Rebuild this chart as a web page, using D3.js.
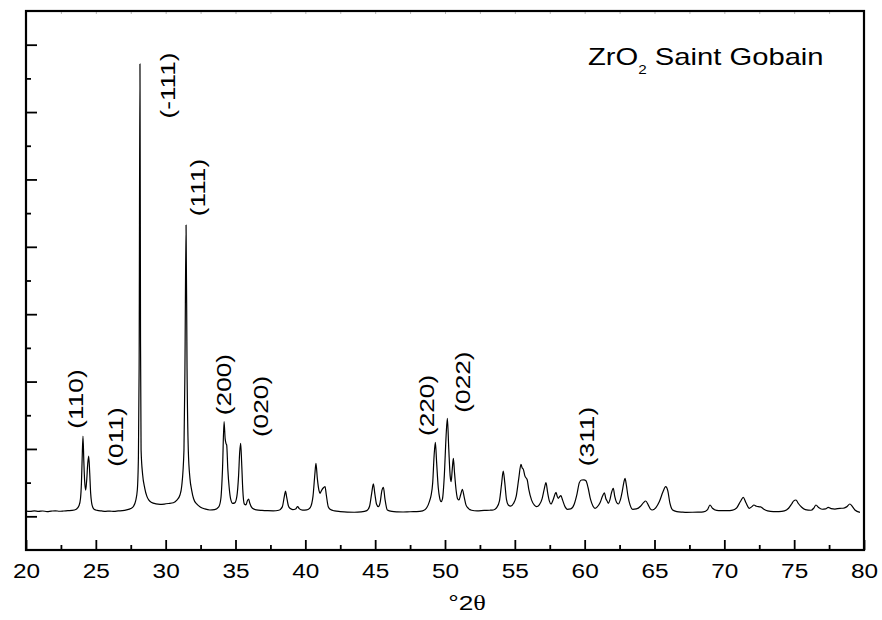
<!DOCTYPE html>
<html>
<head>
<meta charset="utf-8">
<script src="https://cdn.jsdelivr.net/npm/d3@7"></script>
<style>
  body { margin: 0; background: #fff; }
  svg { display: block; font-family: "Liberation Sans", Arial, sans-serif; }
</style>
</head>
<body>
<svg></svg>
<script>
// diffraction pattern (degrees 2theta, counts)
const twoTheta = [
  20.0, 20.3, 20.6, 20.9, 21.2, 21.5, 21.8, 22.1, 22.4, 22.7, 23.0, 23.3, 23.6, 23.8, 23.9, 23.97,
  24.02, 24.08, 24.14, 24.2, 24.27, 24.34, 24.42, 24.49, 24.56, 24.63, 24.7, 24.78, 24.9, 25.1, 25.4,
  25.7, 26.0, 26.3, 26.6, 26.9, 27.2, 27.5, 27.7, 27.85, 27.97, 28.05, 28.1, 28.16, 28.2, 28.24, 28.35,
  28.5, 28.65, 28.8, 29.0, 29.3, 29.6, 29.9, 30.2, 30.55, 30.8, 31.03, 31.15, 31.31, 31.38, 31.46,
  31.53, 31.62, 31.74, 31.86, 32.0, 32.22, 32.5, 32.8, 33.17, 33.5, 33.8, 33.95, 34.07, 34.18, 34.26,
  34.32, 34.37, 34.45, 34.55, 34.65, 34.8, 34.95, 35.1, 35.22, 35.3, 35.37, 35.44, 35.52, 35.63, 35.75,
  35.85, 35.94, 36.03, 36.21, 36.5, 36.9, 37.3, 37.7, 38.1, 38.35, 38.5, 38.58, 38.66, 38.78, 38.9,
  39.1, 39.3, 39.45, 39.58, 39.8, 40.1, 40.35, 40.55, 40.68, 40.76, 40.86, 40.98, 41.05, 41.15, 41.28,
  41.41, 41.5, 41.64, 41.8, 42.1, 42.5, 43.0, 43.5, 44.0, 44.4, 44.6, 44.75, 44.87, 44.98, 45.1, 45.23,
  45.35, 45.48, 45.59, 45.7, 45.87, 46.2, 46.6, 47.0, 47.5, 47.97, 48.4, 48.7, 48.9, 49.0, 49.12, 49.22,
  49.31, 49.4, 49.52, 49.62, 49.72, 49.82, 49.95, 50.08, 50.17, 50.27, 50.37, 50.44, 50.52, 50.6, 50.68,
  50.8, 50.9, 51.0, 51.12, 51.24, 51.36, 51.5, 51.67, 51.9, 52.3, 52.8, 53.2, 53.46, 53.7, 53.9, 54.05,
  54.17, 54.28, 54.4, 54.53, 54.7, 54.9, 55.1, 55.28, 55.44, 55.52, 55.61, 55.72, 55.89, 56.0, 56.2,
  56.4, 56.56, 56.75, 56.95, 57.1, 57.23, 57.35, 57.47, 57.59, 57.75, 57.88, 57.95, 58.03, 58.11, 58.2,
  58.3, 58.42, 58.6, 58.76, 59.0, 59.25, 59.45, 59.62, 59.78, 59.95, 60.09, 60.25, 60.42, 60.6, 60.74,
  60.9, 61.1, 61.28, 61.41, 61.52, 61.6, 61.69, 61.8, 61.92, 62.05, 62.15, 62.28, 62.41, 62.55, 62.7,
  62.82, 62.89, 62.98, 63.1, 63.25, 63.44, 63.7, 64.0, 64.2, 64.37, 64.55, 64.7, 64.84, 65.1, 65.35,
  65.6, 65.8, 65.95, 66.1, 66.3, 66.6, 67.0, 67.3, 67.7, 68.1, 68.5, 68.8, 68.97, 69.15, 69.45, 69.8,
  70.2, 70.6, 70.9, 71.15, 71.36, 71.55, 71.79, 71.95, 72.12, 72.3, 72.43, 72.6, 72.8, 73.1, 73.51,
  73.9, 74.3, 74.6, 74.82, 74.95, 75.13, 75.3, 75.54, 75.8, 76.2, 76.4, 76.56, 76.75, 77.0, 77.25,
  77.44, 77.65, 77.92, 78.28, 78.5, 78.75, 78.99, 79.15, 79.35, 79.71
];
const intensity = [
  78, 72, 80, 74, 79, 71, 77, 82, 75, 79, 84, 88, 105, 160, 260, 500,
  850, 1192, 820, 520, 390, 520, 780, 895, 650, 340, 200, 135, 100, 88, 80,
  74, 78, 72, 80, 84, 95, 115, 150, 230, 390, 900, 2200, 6714, 2600, 984, 620,
  420, 300, 240, 205, 185, 178, 182, 190, 202, 240, 320, 450, 984, 2200, 4324,
  2200, 984, 560, 390, 260, 183, 135, 110, 94, 100, 140, 260, 700, 1404, 1150,
  1080, 1058, 700, 420, 260, 193, 200, 300, 600, 950, 1084, 800, 400, 183, 170,
  230, 257, 190, 119, 95, 88, 84, 82, 90, 140, 300, 376, 290, 160, 119,
  100, 108, 143, 110, 92, 95, 130, 300, 620, 787, 560, 380, 341, 380, 420,
  440, 320, 143, 100, 80, 70, 62, 60, 66, 85, 150, 340, 480, 330, 180, 143,
  200, 380, 430, 260, 94, 72, 66, 64, 68, 69, 80, 130, 230, 306, 500, 900,
  1099, 800, 420, 270, 217, 260, 600, 1200, 1455, 1000, 600, 514, 700, 861, 650,
  380, 260, 242, 320, 400, 300, 170, 119, 90, 82, 88, 90, 94, 130, 230, 480,
  672, 500, 250, 168, 150, 190, 300, 560, 771, 720, 697, 600, 539, 400, 240,
  165, 143, 170, 260, 400, 499, 350, 230, 183, 250, 330, 356, 300, 267, 290,
  306, 240, 140, 104, 110, 180, 330, 500, 539, 540, 528, 420, 250, 150, 119,
  140, 200, 300, 350, 260, 230, 193, 240, 350, 415, 300, 210, 183, 240, 380,
  520, 564, 470, 300, 170, 104, 110, 150, 200, 227, 170, 110, 94, 130, 220,
  360, 440, 380, 200, 94, 70, 62, 59, 60, 62, 66, 100, 168, 120, 89, 85,
  84, 92, 130, 220, 282, 200, 119, 140, 168, 150, 143, 140, 110, 80, 69,
  70, 80, 120, 183, 225, 242, 190, 134, 100, 90, 120, 168, 130, 105, 110,
  134, 115, 108, 119, 120, 140, 183, 150, 94, 59
];

// Miller index labels and where they sit (2theta, counts)
const peakLabels = ["(110)", "(011)", "(-111)", "(111)", "(200)", "(020)", "(220)", "(022)", "(311)"];
const labelTheta = [23.54, 26.41, 30.13, 32.31, 34.14, 36.79, 48.67, 51.25, 60.17];
const labelCounts = [1741, 1177, 6394, 4880, 1956, 1630, 1645, 1993, 1185];

const xTicks = [20, 25, 30, 35, 40, 45, 50, 55, 60, 65, 70, 75, 80];
const xMinorTicks = [22.5, 27.5, 32.5, 37.5, 42.5, 47.5, 52.5, 57.5, 62.5, 67.5, 72.5, 77.5];
const yTicks = [0, 1000, 2000, 3000, 4000, 5000, 6000, 7000];
const yMinorTicks = [500, 1500, 2500, 3500, 4500, 5500, 6500];

const width = 882;
const height = 620;
const margin = { top: 11, right: 18, bottom: 70, left: 26 };

const svg = d3.select("svg").attr("width", width).attr("height", height);

const xScale = d3.scaleLinear().domain([20, 80]).range([margin.left, width - margin.right]);
const yScale = d3.scaleLinear().domain([-500, 7500]).range([height - margin.bottom, margin.top]);

const bottom = height - margin.bottom;

// faint ticks along the top edge
svg.append("g")
  .attr("transform", "translate(0," + margin.top + ")")
  .call(d3.axisTop(xScale).tickValues(xTicks.concat(xMinorTicks)).tickSize(-3).tickFormat(""))
  .call(g => g.select(".domain").remove())
  .call(g => g.selectAll(".tick line").attr("stroke", "#bbb").attr("stroke-width", 1));

// x axis, ticks pointing inward
const xAxis = svg.append("g")
  .attr("transform", "translate(0," + bottom + ")")
  .call(d3.axisBottom(xScale).tickValues(xTicks).tickSizeInner(-10).tickSizeOuter(0).tickFormat(d3.format("d")));
xAxis.select(".domain").remove();
xAxis.selectAll(".tick line").attr("stroke-width", 1.8);
xAxis.selectAll(".tick text")
  .attr("y", 28).attr("dy", 0)
  .attr("font-size", 19.5).attr("fill", "#000")
  .attr("font-family", "Liberation Sans, Arial, sans-serif")
  .attr("transform", "scale(1.25,1)");

svg.append("g")
  .attr("transform", "translate(0," + bottom + ")")
  .call(d3.axisBottom(xScale).tickValues(xMinorTicks).tickSizeInner(-5).tickSizeOuter(0).tickFormat(""))
  .call(g => g.select(".domain").remove())
  .call(g => g.selectAll(".tick line").attr("stroke-width", 1.8));

// y axis, no labels
svg.append("g")
  .attr("transform", "translate(" + margin.left + ",0)")
  .call(d3.axisLeft(yScale).tickValues(yTicks).tickSizeInner(-11).tickSizeOuter(0).tickFormat(""))
  .call(g => g.select(".domain").remove())
  .call(g => g.selectAll(".tick line").attr("stroke-width", 1.8));

svg.append("g")
  .attr("transform", "translate(" + margin.left + ",0)")
  .call(d3.axisLeft(yScale).tickValues(yMinorTicks).tickSizeInner(-5).tickSizeOuter(0).tickFormat(""))
  .call(g => g.select(".domain").remove())
  .call(g => g.selectAll(".tick line").attr("stroke-width", 1.8));

// frame
svg.append("rect")
  .attr("x", xScale(20))
  .attr("y", yScale(7500))
  .attr("width", xScale(80) - xScale(20))
  .attr("height", yScale(-500) - yScale(7500))
  .attr("fill", "none")
  .attr("stroke", "#000")
  .attr("stroke-width", 2.2);

// pattern
const points = twoTheta.map((t, i) => [t, intensity[i]]);
const line = d3.line()
  .x(d => xScale(d[0]))
  .y(d => yScale(d[1]))
  .curve(d3.curveMonotoneX);

svg.append("path")
  .datum(points)
  .attr("d", line)
  .attr("fill", "none")
  .attr("stroke", "#000")
  .attr("stroke-width", 1.2)
  .attr("stroke-linejoin", "round");

// peak labels, rotated
svg.selectAll(".peak-label")
  .data(peakLabels)
  .enter()
  .append("text")
  .attr("class", "peak-label")
  .attr("transform", (d, i) =>
    "translate(" + xScale(labelTheta[i]) + "," + yScale(labelCounts[i]) + ") rotate(-90) scale(1.25,1)")
  .attr("text-anchor", "middle")
  .attr("dy", "0.35em")
  .attr("font-size", 21)
  .text(d => d);

// sample name
const title = svg.append("text")
  .attr("transform", "translate(588,65) scale(1.27,1)")
  .attr("font-size", 23);
title.append("tspan").text("ZrO");
title.append("tspan").attr("font-size", 12).attr("dy", 9).text("2");
title.append("tspan").attr("dy", -9).text(" Saint Gobain");

// axis title
const xTitle = svg.append("text")
  .attr("transform", "translate(467,610) scale(1.25,1)")
  .attr("text-anchor", "middle")
  .attr("font-size", 21);
xTitle.append("tspan").text("°2");
xTitle.append("tspan").attr("font-family", "Liberation Serif, DejaVu Serif, serif").text("θ");
</script>
</body>
</html>
